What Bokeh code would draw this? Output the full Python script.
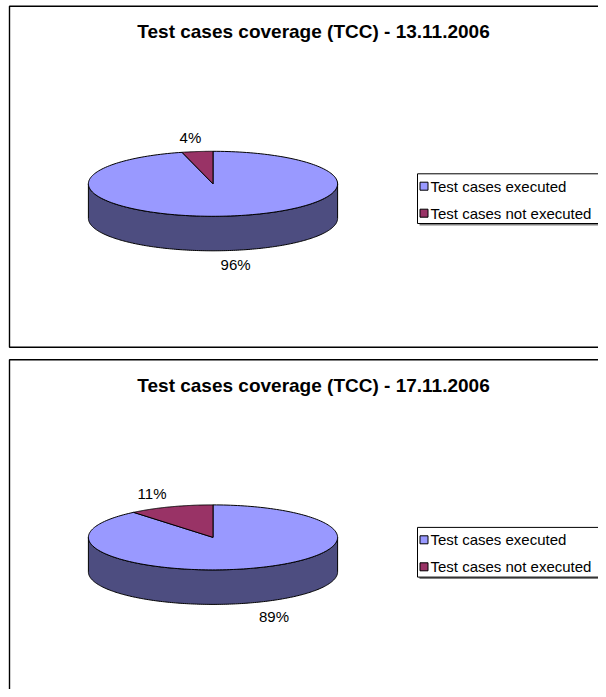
import numpy as np
from bokeh.plotting import figure
from bokeh.models import Range1d
from bokeh.core.properties import value
from bokeh.embed import file_html
from bokeh.resources import INLINE

# ---- data ----
dates = ["13.11.2006", "17.11.2006"]
categories = ["Test cases executed", "Test cases not executed"]
executed = [96, 89]
not_executed = [4, 11]

# ---- styles ----
top_colors = ["#9999FF", "#993366"]
side_colors = ["#4D4D80", "#4D1A33"]
FONT = value("Liberation Sans")

W, H = 598, 689
p = figure(width=W, height=H, x_range=Range1d(0, W), y_range=Range1d(H, 0),
           output_backend="svg", toolbar_location=None,
           x_axis_location=None, y_axis_location=None, min_border=0)
p.outline_line_color = None
p.xgrid.visible = False
p.ygrid.visible = False

panel_tops = [5.7, 359.3]
panel_h = 341.0
A, B, DEPTH = 124.6, 32.5, 34.5
CX = 212.5


def arc(cx, cy, t0, t1, n=200):
    t = np.radians(np.linspace(t0, t1, n))
    return cx + A * np.cos(t), cy - B * np.sin(t)


for i, top in enumerate(panel_tops):
    # panel border (right and lower edges run off the page as in the original)
    bottom = top + panel_h if i == 0 else 760
    p.quad(left=[9], right=[640], top=[top], bottom=[bottom],
           fill_color=None, line_color="#000000", line_width=1.4)

    p.text(x=[313], y=[top + 25.5],
           text=["Test cases coverage (TCC) - " + dates[i]],
           text_font=FONT, text_font_style="bold", text_font_size="19px",
           text_align="center", text_baseline="middle", text_color="#000000")

    cy = top + 177.6
    vals = [executed[i], not_executed[i]]
    total = float(sum(vals))
    # slices go clockwise from 12 o'clock
    bounds = []
    start = 90.0
    for v in vals:
        end = start - 360.0 * v / total
        bounds.append((start, end))
        start = end

    # side walls (front half only: angles where sin < 0)
    for k, (s, e) in enumerate(bounds):
        hi, lo = s, e
        for off in (-720, -360, 0, 360):
            f_hi, f_lo = 0 + off, -180 + off
            a_hi, a_lo = min(hi, f_hi), max(lo, f_lo)
            if a_hi > a_lo:
                xt, yt = arc(CX, cy, a_hi, a_lo)
                xs = np.concatenate([xt, xt[::-1]])
                ys = np.concatenate([yt, (yt + DEPTH)[::-1]])
                p.patch(xs, ys, fill_color=side_colors[k], line_color="#000000",
                        line_width=1.0)

    # top face wedges
    for k, (s, e) in enumerate(bounds):
        xa, ya = arc(CX, cy, s, e)
        xs = np.concatenate([[CX], xa, [CX]])
        ys = np.concatenate([[cy], ya, [cy]])
        p.patch(xs, ys, fill_color=top_colors[k], line_color="#000000", line_width=1.0)

    # percentage labels outside the pie at slice mid-angle
    for k, (s, e) in enumerate(bounds):
        mid = np.radians((s + e) / 2.0)
        lx = CX + 180.0 * np.cos(mid)
        ly = cy - 47.0 * np.sin(mid) + (DEPTH if np.sin(mid) < 0 else 0)
        p.text(x=[lx], y=[ly], text=["%d%%" % round(100 * vals[k] / total)],
               text_font=FONT, text_font_size="15px", text_align="center",
               text_baseline="middle", text_color="#000000")

    # legend
    lt, lb = top + 167.6, top + 217.3
    p.quad(left=[419], right=[650], top=[lt + 2], bottom=[lb + 2],
           fill_color="#808080", line_color=None)
    p.quad(left=[417], right=[650], top=[lt], bottom=[lb],
           fill_color="#FFFFFF", line_color="#000000", line_width=1.0)
    rows = [top + 180.0, top + 207.0]
    for k, name in enumerate(categories):
        p.quad(left=[419.5], right=[427.5], top=[rows[k] - 4], bottom=[rows[k] + 4],
               fill_color=top_colors[k], line_color="#000000", line_width=1.0)
        p.text(x=[430], y=[rows[k]], text=[name], text_font=FONT,
               text_font_size="15px", text_align="left", text_baseline="middle",
               text_color="#000000")

open("out.html", "w").write(file_html(p, INLINE))
